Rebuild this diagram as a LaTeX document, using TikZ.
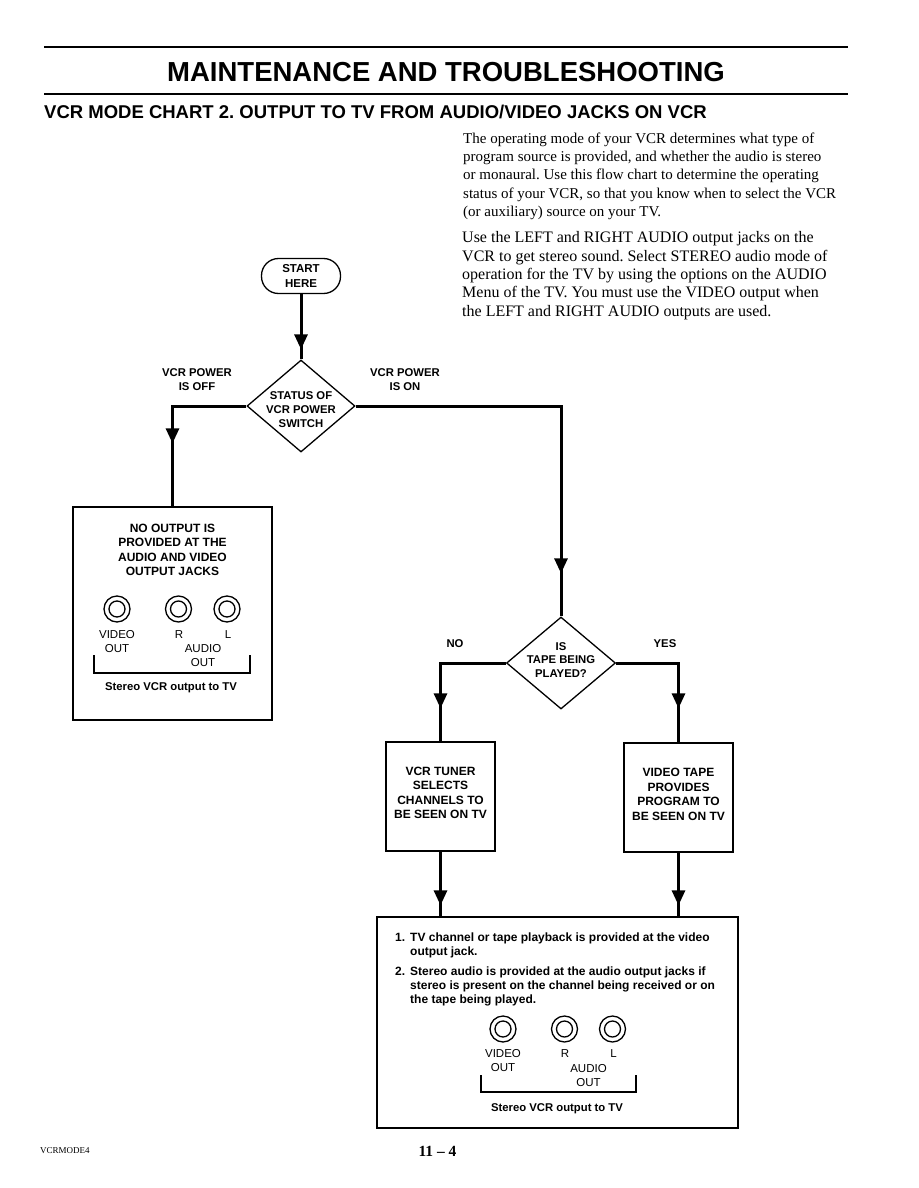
\documentclass[tikz,border=0pt]{standalone}
\usepackage{fontspec}
\setmainfont{Liberation Serif}
\setsansfont{Liberation Sans}
\usetikzlibrary{shapes.geometric,arrows.meta,decorations.markings}
\frenchspacing
\tikzset{
  flow/.style={line width=3pt},
  arrowat/.style={postaction={decorate,decoration={markings,
      mark=at position #1 with {\arrow{Triangle[length=15pt,width=13pt]}}}}},
  box/.style={draw, line width=1.3pt, inner sep=0pt},
  diam/.style={diamond, draw, line width=1.3pt, inner sep=0pt},
  lbl/.style={font=\sffamily\bfseries\fontsize{12}{14.5}\selectfont, align=center, inner sep=0pt},
  dlbl/.style={font=\sffamily\bfseries\fontsize{11.3}{13.8}\selectfont, align=center, inner sep=0pt},
  jlbl/.style={font=\sffamily\fontsize{11.5}{14}\selectfont, align=center, inner sep=0pt},
  capt/.style={font=\sffamily\bfseries\fontsize{11.3}{14}\selectfont, inner sep=0pt},
  item/.style={font=\sffamily\bfseries\fontsize{12}{14.3}\selectfont, align=left, inner sep=0pt, anchor=west},
  rule/.style={line width=2pt},
  thin/.style={line width=1.3pt},
  jack/.pic={\draw[thin] (0,0) circle (13pt) (0,0) circle (8pt);}
}
\begin{document}
\begin{tikzpicture}[x=1pt,y=-1pt]
\fill[white] (0,0) rectangle (918,1188);
\useasboundingbox (0,0) rectangle (918,1188);

% header
\draw[rule] (44,47) -- (848,47);
\draw[rule] (44,94) -- (848,94);
\node[font=\sffamily\bfseries\fontsize{27.5}{33}\selectfont, anchor=base, inner sep=0pt] (title) at (446,82) {MAINTENANCE AND TROUBLESHOOTING};
\node[font=\sffamily\bfseries\fontsize{18.5}{22}\selectfont, anchor=base west, inner sep=0pt] (subtitle) at (44,119) {VCR MODE CHART 2. OUTPUT TO TV FROM AUDIO/VIDEO JACKS ON VCR};

% paragraphs
\node[font=\rmfamily\fontsize{15}{18.3}\selectfont, align=left, anchor=north west, inner sep=0pt] (para1) at (463,132.5)
{The operating mode of your VCR determines what type of\\
program source is provided, and whether the audio is stereo\\
or monaural. Use this flow chart to determine the operating\\
status of your VCR, so that you know when to select the VCR\\
(or auxiliary) source on your TV.};
\node[font=\rmfamily\fontsize{16}{18.3}\selectfont, align=left, anchor=north west, inner sep=0pt] (para2) at (462,231.5)
{Use the LEFT and RIGHT AUDIO output jacks on the\\
VCR to get stereo sound. Select STEREO audio mode of\\
operation for the TV by using the options on the AUDIO\\
Menu of the TV. You must use the VIDEO output when\\
the LEFT and RIGHT AUDIO outputs are used.};

% flow nodes
\node[box, rounded corners=17pt, minimum width=79pt, minimum height=35pt, font=\sffamily\bfseries\fontsize{11.5}{14.3}\selectfont, align=center] (start) at (301,276) {START\\HERE};
\node[diam, minimum width=108pt, minimum height=92pt] (d1) at (301,406) {};
\node[dlbl] (d1t) at (301,409.5) {STATUS OF\\VCR POWER\\SWITCH};
\node[dlbl] (offl) at (197,380) {VCR POWER\\IS OFF};
\node[dlbl] (onl) at (405,380) {VCR POWER\\IS ON};

\node[box, minimum width=199pt, minimum height=213pt] (b1) at (172.5,613.5) {};
\node[lbl] (b1t) at (172.5,550) {NO OUTPUT IS\\PROVIDED AT THE\\AUDIO AND VIDEO\\OUTPUT JACKS};
\pic at (117,609) {jack};
\pic at (178.5,609) {jack};
\pic at (227,609) {jack};
\node[jlbl] (b1v) at (117,641.5) {VIDEO\\OUT};
\node[jlbl] (b1r) at (179,635) {R};
\node[jlbl] (b1l) at (228,635) {L};
\node[jlbl] (b1a) at (203,656) {AUDIO\\OUT};
\draw[thin] (94,655) -- (94,673) -- (250,673) -- (250,655);
\node[capt] (b1c) at (171,688) {Stereo VCR output to TV};

\node[diam, minimum width=109pt, minimum height=92pt] (d2) at (561,663) {};
\node[dlbl] (d2t) at (561,660) {IS\\TAPE BEING\\PLAYED?};
\node[dlbl] (nol) at (455,644) {NO};
\node[dlbl] (yesl) at (665,644) {YES};

\node[box, minimum width=109pt, minimum height=109pt] (b3) at (440.5,796.5) {};
\node[lbl] (b3t) at (440.5,793) {VCR TUNER\\SELECTS\\CHANNELS TO\\BE SEEN ON TV};
\node[box, minimum width=109pt, minimum height=109pt] (b4) at (678.5,797.5) {};
\node[lbl] (b4t) at (678.5,794.5) {VIDEO TAPE\\PROVIDES\\PROGRAM TO\\BE SEEN ON TV};

\node[box, minimum width=361pt, minimum height=211pt] (b5) at (557.5,1022.5) {};
\node[item] (i1) at (395,945.5) {1.\hspace{5pt}TV channel or tape playback is provided at the video\\\hspace*{15pt}output jack.};
\node[item] (i2) at (395,986.5) {2.\hspace{5pt}Stereo audio is provided at the audio output jacks if\\\hspace*{15pt}stereo is present on the channel being received or on\\\hspace*{15pt}the tape being played.};
\pic at (503,1029) {jack};
\pic at (564.5,1029) {jack};
\pic at (612.5,1029) {jack};
\node[jlbl] (b5v) at (503,1061) {VIDEO\\OUT};
\node[jlbl] (b5r) at (565,1054) {R};
\node[jlbl] (b5l) at (613.5,1054) {L};
\node[jlbl] (b5a) at (588.5,1075.5) {AUDIO\\OUT};
\draw[thin] (481,1075) -- (481,1092) -- (636,1092) -- (636,1075);
\node[capt] (b5c) at (557,1109) {Stereo VCR output to TV};

% connectors
\draw[flow, arrowat=-10pt] (start.south) -- (d1.north);
\draw[flow, arrowat=-63pt] (d1.west) -| (b1.north);
\draw[flow, arrowat=-43pt] (d1.east) -| (d2.north);
\draw[flow, arrowat=-33pt] (d2.west) -| (b3.north);
\draw[flow, arrowat=-34pt] (d2.east) -| (b4.north);
\draw[flow, arrowat=-11pt] (b3.south) -- (b3.south |- b5.north);
\draw[flow, arrowat=-11pt] (b4.south) -- (b4.south |- b5.north);

% footer
\node[font=\rmfamily\fontsize{9}{11}\selectfont, anchor=base west, inner sep=0pt] (foot) at (40,1153) {VCRMODE4};
\node[font=\rmfamily\bfseries\fontsize{15.5}{18}\selectfont, anchor=base, inner sep=0pt] (page) at (437.5,1156) {11 – 4};
\end{tikzpicture}
\end{document}
